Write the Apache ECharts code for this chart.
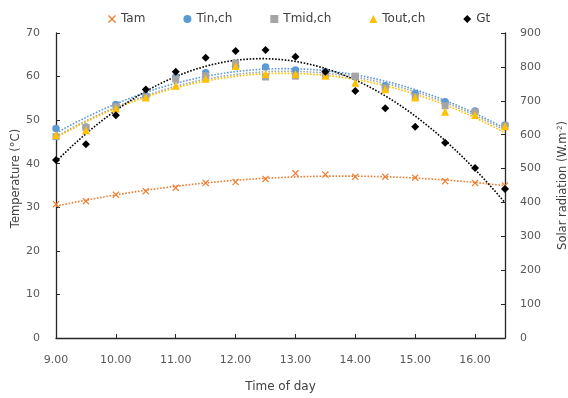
<!DOCTYPE html>
<html>
<head>
<meta charset="utf-8">
<script src="https://cdn.jsdelivr.net/npm/echarts@6/dist/echarts.min.js"></script>
<style>html,body{margin:0;padding:0;background:#fff}#c{width:568px;height:398px}</style>
</head>
<body>
<div id="c"></div>
<script>
const times = [9.0, 9.5, 10.0, 10.5, 11.0, 11.5, 12.0, 12.5, 13.0, 13.5, 14.0, 14.5, 15.0, 15.5, 16.0, 16.5];
const tam   = [30.7, 31.4, 32.9, 33.7, 34.5, 35.6, 35.8, 36.5, 37.8, 37.5, 37.0, 37.0, 36.8, 36.0, 35.6, 35.0];
const tin   = [48.1, 48.4, 53.6, 55.6, 59.9, 60.9, 62.3, 62.2, 61.5, 61.1, 59.9, 57.9, 56.1, 54.2, 52.1, 48.9];
const tmid  = [46.2, 48.3, 53.1, 55.3, 59.4, 60.2, 63.1, 59.9, 60.1, 60.5, 60.1, 57.4, 55.4, 53.3, 51.9, 48.7];
const tout  = [46.6, 47.7, 52.7, 55.2, 57.9, 59.5, 62.4, 60.6, 60.6, 60.2, 58.6, 57.1, 55.2, 51.9, 51.2, 48.6];
const gt    = [525, 572, 657, 733, 786, 827, 847, 850, 830, 786, 729, 678, 623, 576, 502, 440];
const xTicks = [9, 10, 11, 12, 13, 14, 15, 16];
const seriesNames = ['Tam', 'Tin,ch', 'Tmid,ch', 'Tout,ch', 'Gt'];
const colors = ['#ED7D31', '#5B9BD5', '#A5A5A5', '#FFC000', '#000000'];

// Excel-style 2nd order polynomial trendline (least squares from the data arrays)
function quadFit(xs, ys) {
  let s = [0,0,0,0,0], t = [0,0,0];
  for (let i = 0; i < xs.length; i++) {
    const x = xs[i], y = ys[i];
    let p = 1;
    for (let k = 0; k < 5; k++) { s[k] += p; p *= x; }
    t[0] += y; t[1] += y * x; t[2] += y * x * x;
  }
  const A = [[s[0], s[1], s[2], t[0]], [s[1], s[2], s[3], t[1]], [s[2], s[3], s[4], t[2]]];
  for (let i = 0; i < 3; i++) {
    for (let j = i + 1; j < 3; j++) {
      const f = A[j][i] / A[i][i];
      for (let k = i; k < 4; k++) A[j][k] -= f * A[i][k];
    }
  }
  const c = [0,0,0];
  for (let i = 2; i >= 0; i--) {
    let v = A[i][3];
    for (let k = i + 1; k < 3; k++) v -= A[i][k] * c[k];
    c[i] = v / A[i][i];
  }
  const pts = [];
  const x0 = xs[0], x1 = xs[xs.length - 1];
  const n = 60;
  for (let i = 0; i <= n; i++) {
    const x = x0 + (x1 - x0) * i / n;
    pts.push([x, c[0] + c[1] * x + c[2] * x * x]);
  }
  return pts;
}

const pair = arr => times.map((t, i) => [t, arr[i]]);
const allData = [tam, tin, tmid, tout, gt];
const symbols = [
  'path://M0,1.2L1.2,0L5,3.8L8.8,0L10,1.2L6.2,5L10,8.8L8.8,10L5,6.2L1.2,10L0,8.8L3.8,5Z',
  'circle', 'rect', 'triangle', 'diamond'
];
const sizes = [7, 7.5, 7, 8, 8];

const series = [];
allData.forEach((d, i) => {
  series.push({
    type: 'line', name: seriesNames[i] + ' trend', data: quadFit(times, d),
    yAxisIndex: i === 4 ? 1 : 0, showSymbol: false, symbol: 'none', smooth: false,
    lineStyle: { color: colors[i], width: 1.6, type: [1.6, 1.6] }, z: 2, silent: true
  });
});
allData.forEach((d, i) => {
  series.push({
    type: 'scatter', name: seriesNames[i], data: pair(d), yAxisIndex: i === 4 ? 1 : 0,
    symbol: symbols[i], symbolSize: sizes[i], itemStyle: { color: colors[i], opacity: 1 }, z: 5
  });
});

const axisFont = { fontFamily: 'DejaVu Sans', fontSize: 11, color: '#595959' };
const chart = echarts.init(document.getElementById('c'), null, { renderer: 'canvas' });
chart.setOption({
  animation: false,
  backgroundColor: '#fff',
  grid: { left: 56, right: 63, top: 33, bottom: 60, containLabel: false, outerBoundsMode: 'none' },
  legend: {
    data: seriesNames, top: 8, left: 103, itemGap: 38, itemWidth: 8, itemHeight: 8,
    textStyle: { fontFamily: 'DejaVu Sans', fontSize: 12, color: '#404040' }
  },
  xAxis: {
    type: 'value', min: 9, max: 16.5, interval: 1,
    name: 'Time of day', nameLocation: 'middle', nameGap: 43,
    nameTextStyle: { fontFamily: 'DejaVu Sans', fontSize: 12, color: '#404040' },
    axisLine: { lineStyle: { color: '#262626', width: 1.3 } },
    axisTick: { inside: true, length: 4, lineStyle: { color: '#262626' } },
    axisLabel: Object.assign({ margin: 17, formatter: v => xTicks.indexOf(v) >= 0 ? v.toFixed(2) : '' }, axisFont),
    splitLine: { show: false }
  },
  yAxis: [{
    type: 'value', min: 0, max: 70, interval: 10,
    name: 'Temperature (°C)', nameLocation: 'middle', nameGap: 34, nameRotate: 90, nameMoveOverlap: false,
    nameTextStyle: { fontFamily: 'DejaVu Sans', fontSize: 11.5, color: '#404040', padding: [0, 0, 0, 14] },
    axisLine: { show: true, lineStyle: { color: '#262626', width: 1.3 } },
    axisTick: { show: true, inside: true, length: 4, lineStyle: { color: '#262626' } },
    axisLabel: Object.assign({ margin: 16 }, axisFont),
    splitLine: { show: false }
  }, {
    type: 'value', min: 0, max: 900, interval: 100, position: 'right',
    name: 'Solar radiation (W.m{sup|-2})', nameLocation: 'middle', nameGap: 52, nameRotate: 90,
    nameTextStyle: {
      fontFamily: 'DejaVu Sans', fontSize: 11.5, color: '#404040',
      rich: { sup: { fontFamily: 'DejaVu Sans', fontSize: 7, color: '#404040', verticalAlign: 'top', padding: [0, 0, 6, 0] } }
    },
    axisLine: { show: true, lineStyle: { color: '#262626', width: 1.3 } },
    axisTick: { show: true, inside: true, length: 4, lineStyle: { color: '#262626' } },
    axisLabel: Object.assign({ margin: 15 }, axisFont),
    splitLine: { show: false }
  }],
  series: series
});
</script>
</body>
</html>
